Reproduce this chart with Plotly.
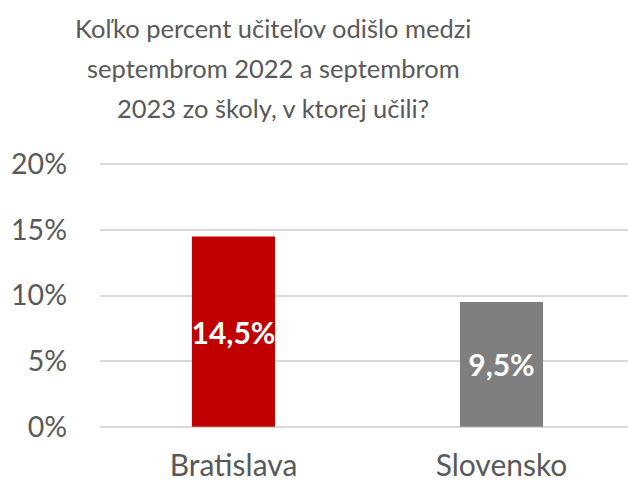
import plotly.graph_objects as go

categories = ["Bratislava", "Slovensko"]
values = [0.145, 0.095]
labels = ["14,5%", "9,5%"]
colors = ["#C00000", "#7F7F7F"]
title_lines = [
    "Koľko percent učiteľov odišlo medzi",
    "septembrom 2022 a septembrom",
    "2023 zo školy, v ktorej učili?",
]
y_ticks = [0, 0.05, 0.10, 0.15, 0.20]
y_ticktext = ["0%", "5%", "10%", "15%", "20%"]

FONT = "Lato, 'Open Sans', sans-serif"
GRAY = "#595959"

PLOT_TOP = 163
PLOT_H = 265

fig = go.Figure(go.Bar(
    x=categories, y=values, width=0.31,
    marker=dict(color=colors, line=dict(width=0)),
    text=labels, textposition="inside", insidetextanchor="middle",
    textangle=0,
    textfont=dict(family=FONT, size=30, color="white", weight="bold"),
))

for i, line in enumerate(title_lines):
    fig.add_annotation(
        text=line, xref="paper", yref="paper",
        x=(273 - 100) / 528, y=1 + (PLOT_TOP - (28 + 40 * i)) / PLOT_H,
        xanchor="center", yanchor="middle", showarrow=False,
        font=dict(family=FONT, size=25.5, color=GRAY),
    )

fig.update_layout(
    width=628, height=482,
    margin=dict(l=100, r=0, t=PLOT_TOP, b=482 - PLOT_TOP - PLOT_H, autoexpand=False),
    paper_bgcolor="white", plot_bgcolor="white",
    showlegend=False,
    uniformtext=dict(minsize=30, mode="show"),
    xaxis=dict(range=[-0.498, 1.472], showgrid=False, zeroline=False,
               showline=False, ticks="", ticklabelstandoff=17, automargin=False,
               tickfont=dict(family=FONT, size=30, color=GRAY)),
    yaxis=dict(range=[-0.001, 0.201], tickvals=y_ticks, ticktext=y_ticktext,
               showgrid=True, gridcolor="#D9D9D9", gridwidth=1.5,
               zeroline=False, showline=False, ticks="", automargin=False,
               ticklabelstandoff=32,
               tickfont=dict(family=FONT, size=28.5, color=GRAY)),
)

fig.write_html("out.html", config={"displayModeBar": False},
               post_script="document.body.style.margin='0';document.body.style.padding='0';")
